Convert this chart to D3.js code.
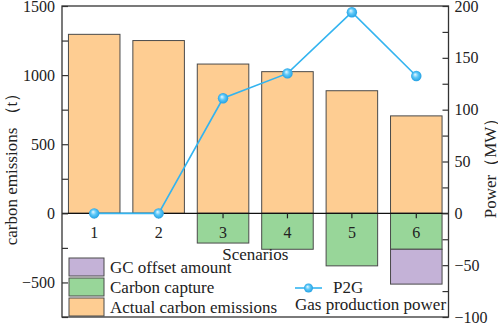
<!DOCTYPE html>
<html lang="en">
  <head>
    <meta charset="utf-8">
    <title>Carbon emissions and P2G</title>
    <style>
      body { margin: 0; background: #fff; }
      svg { display: block; }
      text { font-family: "Liberation Serif", "Times New Roman", serif; fill: #222; }
    </style>
    <script src="https://d3js.org/d3.v7.min.js"></script>
  </head>
  <body>
    <script>
    // data
    const scenarios = ["1","2","3","4","5","6"];
    const actualEmissions = [1295, 1250, 1080, 1025, 887, 705];
    const carbonCapture = [0, 0, -215, -260, -380, -260];
    const gcOffset = [0, 0, 0, 0, 0, -252];
    const p2gPower = [0, 0, 111, 135, 194, 132.5];
    const leftTicks = [-500, 0, 500, 1000, 1500];
    const rightTicks = [-100, -50, 0, 50, 100, 150, 200];

    const width = 498, height = 325;
    const box = { left: 62, right: 448.5, top: 6, bottom: 317 };

    const svg = d3.select("body")
      .append("svg")
      .attr("width", width)
      .attr("height", height);

    const x = d3.scaleBand()
      .domain(scenarios)
      .range([box.left, box.right])
      .paddingInner(0.2)
      .paddingOuter(0.1);

    const yL = d3.scaleLinear()
      .domain([-750, 1500])
      .range([box.bottom, box.top]);

    const yR = d3.scaleLinear()
      .domain([-100, 200])
      .range([box.bottom, box.top]);

    // sphere-like marker
    const grad = svg.append("defs").append("radialGradient")
      .attr("id", "ball")
      .attr("cx", "50%").attr("cy", "50%").attr("r", "55%")
      .attr("fx", "38%").attr("fy", "35%");
    grad.append("stop").attr("offset", "0%").attr("stop-color", "#e8f8ff");
    grad.append("stop").attr("offset", "45%").attr("stop-color", "#5cc8f8");
    grad.append("stop").attr("offset", "100%").attr("stop-color", "#1c9be0");

    const barStroke = "#4a4a4a";

    // actual emissions
    svg.append("g").selectAll("rect")
      .data(scenarios)
      .join("rect")
      .attr("x", d => x(d))
      .attr("width", x.bandwidth())
      .attr("y", (d, i) => yL(actualEmissions[i]))
      .attr("height", (d, i) => yL(0) - yL(actualEmissions[i]))
      .attr("fill", "#fecd92")
      .attr("stroke", barStroke)
      .attr("stroke-width", 1);

    // carbon capture
    svg.append("g").selectAll("rect")
      .data(scenarios.filter((d, i) => carbonCapture[i] < 0))
      .join("rect")
      .attr("x", d => x(d))
      .attr("width", x.bandwidth())
      .attr("y", yL(0))
      .attr("height", d => yL(carbonCapture[scenarios.indexOf(d)]) - yL(0))
      .attr("fill", "#98d699")
      .attr("stroke", barStroke)
      .attr("stroke-width", 1);

    // GC offset, stacked below capture
    svg.append("g").selectAll("rect")
      .data(scenarios.filter((d, i) => gcOffset[i] < 0))
      .join("rect")
      .attr("x", d => x(d))
      .attr("width", x.bandwidth())
      .attr("y", d => yL(carbonCapture[scenarios.indexOf(d)]))
      .attr("height", d => {
        const i = scenarios.indexOf(d);
        return yL(carbonCapture[i] + gcOffset[i]) - yL(carbonCapture[i]);
      })
      .attr("fill", "#c4b2d7")
      .attr("stroke", barStroke)
      .attr("stroke-width", 1);

    // zero line with category ticks
    svg.append("line")
      .attr("x1", box.left).attr("x2", box.right)
      .attr("y1", yL(0)).attr("y2", yL(0))
      .attr("stroke", "#111").attr("stroke-width", 1.3);

    svg.append("g").selectAll("line")
      .data(scenarios)
      .join("line")
      .attr("x1", d => x(d) + x.bandwidth() / 2)
      .attr("x2", d => x(d) + x.bandwidth() / 2)
      .attr("y1", yL(0)).attr("y2", yL(0) + 5)
      .attr("stroke", "#222").attr("stroke-width", 1.2);

    svg.append("g").selectAll("text")
      .data(scenarios)
      .join("text")
      .attr("x", d => x(d) + x.bandwidth() / 2)
      .attr("y", yL(0) + 25)
      .attr("text-anchor", "middle")
      .style("font-size", "16px")
      .text(d => d);

    svg.append("text")
      .attr("x", (box.left + box.right) / 2)
      .attr("y", 260)
      .attr("text-anchor", "middle")
      .style("font-size", "17px")
      .text("Scenarios");

    // P2G line
    const line = d3.line()
      .x((d, i) => x(scenarios[i]) + x.bandwidth() / 2)
      .y(d => yR(d));

    svg.append("path")
      .datum(p2gPower)
      .attr("fill", "none")
      .attr("stroke", "#33b4f0")
      .attr("stroke-width", 1.6)
      .attr("d", line);

    svg.append("g").selectAll("circle")
      .data(p2gPower)
      .join("circle")
      .attr("cx", (d, i) => x(scenarios[i]) + x.bandwidth() / 2)
      .attr("cy", d => yR(d))
      .attr("r", 5.2)
      .attr("fill", "url(#ball)");

    // axes (ticks pointing inward)
    const leftAxis = svg.append("g")
      .attr("transform", `translate(${box.left},0)`)
      .call(d3.axisLeft(yL).tickValues(d3.range(-750, 1501, 250)).tickSize(-6).tickFormat(""));
    leftAxis.select(".domain").remove();
    leftAxis.selectAll("line").attr("stroke", "#333").attr("stroke-width", 1.2);

    svg.append("g").selectAll("text")
      .data(leftTicks)
      .join("text")
      .attr("x", box.left - 7)
      .attr("y", d => yL(d))
      .attr("dy", "0.35em")
      .attr("text-anchor", "end")
      .style("font-size", "16px")
      .text(d => d < 0 ? "\u2212" + Math.abs(d) : d);

    const rightAxis = svg.append("g")
      .attr("transform", `translate(${box.right},0)`)
      .call(d3.axisRight(yR).tickValues(d3.range(-100, 201, 25)).tickSize(-6).tickFormat(""));
    rightAxis.select(".domain").remove();
    rightAxis.selectAll("line").attr("stroke", "#333").attr("stroke-width", 1.2);

    svg.append("g").selectAll("text")
      .data(rightTicks)
      .join("text")
      .attr("x", box.right + 6)
      .attr("y", d => yR(d))
      .attr("dy", "0.35em")
      .attr("text-anchor", "start")
      .style("font-size", "16px")
      .text(d => d < 0 ? "\u2212" + Math.abs(d) : d);

    // frame
    svg.append("rect")
      .attr("x", box.left).attr("y", box.top)
      .attr("width", box.right - box.left)
      .attr("height", box.bottom - box.top)
      .attr("fill", "none")
      .attr("stroke", "#333")
      .attr("stroke-width", 1.3);

    // axis titles
    svg.append("text")
      .attr("transform", "translate(17,165) rotate(-90)")
      .attr("text-anchor", "middle")
      .style("font-size", "17px")
      .text("carbon emissions （t）");

    svg.append("text")
      .attr("transform", "translate(496,164) rotate(-90)")
      .attr("text-anchor", "middle")
      .style("font-size", "17px")
      .text("Power（MW）");

    // legend, bars
    const legendItems = [
      { label: "GC offset amount", color: "#c4b2d7" },
      { label: "Carbon capture", color: "#98d699" },
      { label: "Actual carbon emissions", color: "#fecd92" }
    ];
    const lg = svg.append("g").attr("transform", "translate(69,258)");
    lg.selectAll("rect")
      .data(legendItems)
      .join("rect")
      .attr("x", 0)
      .attr("y", (d, i) => i * 20)
      .attr("width", 35)
      .attr("height", 18)
      .attr("fill", d => d.color)
      .attr("stroke", barStroke);
    lg.selectAll("text")
      .data(legendItems)
      .join("text")
      .attr("x", 41)
      .attr("y", (d, i) => i * 20 + 15)
      .style("font-size", "17px")
      .text(d => d.label);

    // legend, line
    svg.append("line")
      .attr("x1", 295).attr("x2", 322)
      .attr("y1", 288).attr("y2", 288)
      .attr("stroke", "#33b4f0").attr("stroke-width", 1.6);
    svg.append("circle")
      .attr("cx", 308.5).attr("cy", 288).attr("r", 4.5)
      .attr("fill", "url(#ball)");
    svg.append("text")
      .attr("x", 333).attr("y", 293)
      .style("font-size", "17px")
      .text("P2G");
    svg.append("text")
      .attr("x", 295).attr("y", 310)
      .style("font-size", "17px")
      .text("Gas production power");
    </script>
  </body>
</html>
